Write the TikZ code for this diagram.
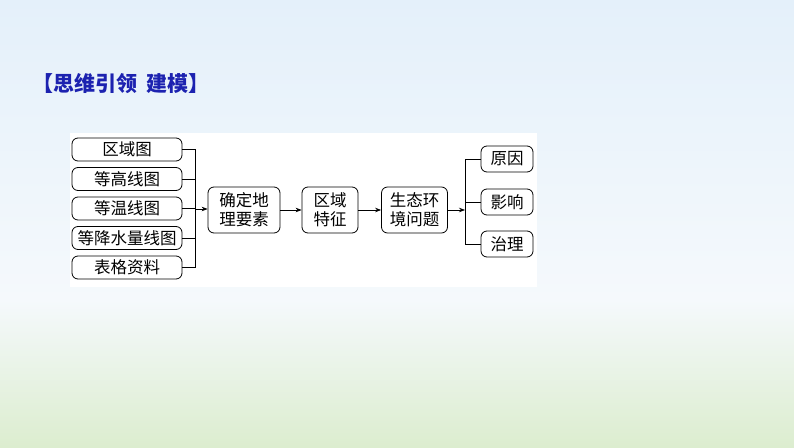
\documentclass[tikz,border=0pt]{standalone}
\usepackage{fontspec}
\newfontfamily\cjk{Noto Sans CJK SC}
\usetikzlibrary{arrows.meta}
\definecolor{titleblue}{HTML}{1C22B0}
\definecolor{bgtop}{HTML}{E4F0FA}
\definecolor{bgmid}{HTML}{F5F9FC}
\definecolor{bgbot}{HTML}{DCEDCF}
\tikzset{
  box/.style={draw=black, line width=0.8pt, rounded corners=6pt, fill=white, inner sep=0pt, font=\cjk\fontsize{16.5}{19}\selectfont, align=center},
  link/.style={draw=black, line width=0.7pt},
  arr/.style={link, -{Stealth[length=6pt,width=4.5pt]}}
}
\begin{document}
\begin{tikzpicture}[x=1pt,y=-1pt]
\useasboundingbox (0,0) rectangle (794,447);
\shade[top color=bgtop, bottom color=bgmid] (0,0) rectangle (794,300);
\shade[top color=bgmid, bottom color=bgbot] (0,300) rectangle (794,447);
\fill[white] (70,133) rectangle (537,287);
\node[anchor=west, text=titleblue, font=\cjk\bfseries\fontsize{21}{23}\selectfont, inner sep=0pt] (title) at (32,84) {【思维引领\hspace{0.45em}建模】};
% left boxes
\node[box, minimum width=110pt, minimum height=23pt] (a1) at (127,149.5) {区域图};
\node[box, minimum width=110pt, minimum height=23pt] (a2) at (127,179) {等高线图};
\node[box, minimum width=110pt, minimum height=23pt] (a3) at (127,208.5) {等温线图};
\node[box, minimum width=110pt, minimum height=23pt] (a4) at (127,238) {等降水量线图};
\node[box, minimum width=110pt, minimum height=23pt] (a5) at (127,267.5) {表格资料};
% middle
\node[box, minimum width=72pt, minimum height=46pt] (b1) at (244,210) {确定地\\理要素};
\node[box, minimum width=56pt, minimum height=46pt] (b2) at (330,210) {区域\\特征};
\node[box, minimum width=66pt, minimum height=46pt] (b3) at (414.5,210) {生态环\\境问题};
% right
\node[box, minimum width=52pt, minimum height=26pt] (c1) at (507,159) {原因};
\node[box, minimum width=52pt, minimum height=26pt] (c2) at (507,202) {影响};
\node[box, minimum width=52pt, minimum height=26pt] (c3) at (507,244) {治理};
% left bracket
\coordinate (lt) at (195,149.5);
\coordinate (lb) at (195,267.5);
\coordinate (lm) at (195,209);
\draw[link] (a1.east) -- (lt) -- (lb) -- (a5.east);
\draw[link] (a2.east) -- (a2.east -| lt);
\draw[link] (a3.east) -- (a3.east -| lt);
\draw[link] (a4.east) -- (a4.east -| lt);
\draw[arr] (lm) -- (lm -| b1.west);
\draw[arr] (b1.east) -- (b2.west);
\draw[arr] (b2.east) -- (b3.west);
% right bracket
\coordinate (rt) at (465,159);
\coordinate (rb) at (465,244);
\draw[arr] (b3.east) -- (b3.east -| rt);
\draw[link] (c1.west) -- (rt) -- (rb) -- (c3.west);
\draw[link] (c2.west) -- (c2.west -| rt);
\end{tikzpicture}
\end{document}
